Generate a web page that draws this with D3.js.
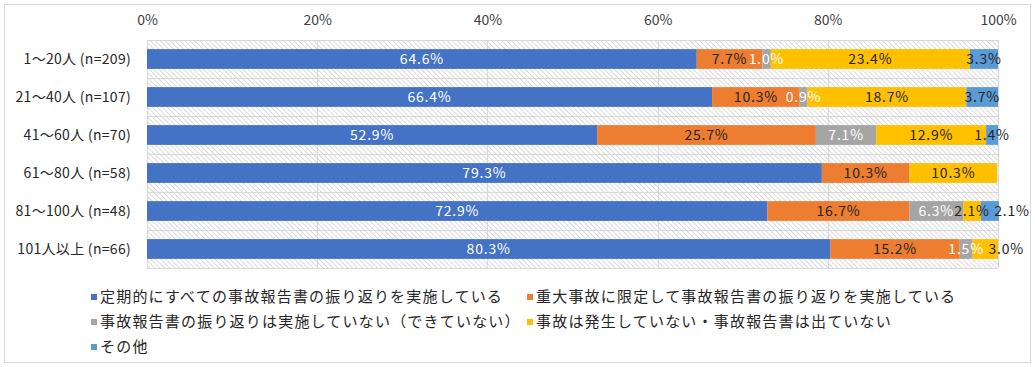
<!DOCTYPE html>
<html>
<head>
<meta charset="utf-8">
<script src="https://cdn.jsdelivr.net/npm/d3@7"></script>
<style>
  body { margin: 0; background: #fff; }
  svg { display: block; font-family: "Noto Sans CJK JP", "Noto Sans", sans-serif; }
</style>
</head>
<body>
<svg width="1035" height="367"></svg>
<script>
var categories = ["1～20人 (n=209)", "21～40人 (n=107)", "41～60人 (n=70)", "61～80人 (n=58)", "81～100人 (n=48)", "101人以上 (n=66)"];
var seriesNames = [
  "定期的にすべての事故報告書の振り返りを実施している",
  "重大事故に限定して事故報告書の振り返りを実施している",
  "事故報告書の振り返りは実施していない（できていない）",
  "事故は発生していない・事故報告書は出ていない",
  "その他"
];
var regular    = [64.6, 66.4, 52.9, 79.3, 72.9, 80.3];
var serious    = [7.7, 10.3, 25.7, 10.3, 16.7, 15.2];
var notDone    = [1.0, 0.9, 7.1, 0, 6.3, 1.5];
var noAccident = [23.4, 18.7, 12.9, 10.3, 2.1, 3.0];
var other      = [3.3, 3.7, 1.4, 0, 2.1, 0];
var ticks = [0, 20, 40, 60, 80, 100];

var colors = ["#4472C4", "#ED7D31", "#A5A5A5", "#FFC000", "#5B9BD5"];
var labelColors = ["#fff", "#262626", "#fff", "#262626", "#262626"];
// a couple of labels were dragged right of the bar end in the original
var nudge = { "4|4": 22, "5|3": 21 };

var svg = d3.select("svg");
var allSeries = [regular, serious, notDone, noAccident, other];

var rows = categories.map(function(c, i) {
  var r = { cat: c };
  allSeries.forEach(function(s, k) { r["s" + k] = s[i]; });
  return r;
});
var keys = allSeries.map(function(s, k) { return "s" + k; });
var stacked = d3.stack().keys(keys)(rows);

var x = d3.scaleLinear().domain([0, 100]).range([147, 998]);
var y = d3.scaleBand().domain(categories).range([40, 268]).paddingInner(0.48).paddingOuter(0.24);

// frame
svg.append("rect").attr("x", 4.5).attr("y", 4.5).attr("width", 1026).attr("height", 358)
  .attr("fill", "#fff").attr("stroke", "#d9d9d9");

// hatch
var defs = svg.append("defs");
var pat = defs.append("pattern").attr("id", "hatch").attr("patternUnits", "userSpaceOnUse")
  .attr("width", 3.5).attr("height", 3.5).attr("patternTransform", "rotate(-45)");
pat.append("rect").attr("width", 3.5).attr("height", 3.5).attr("fill", "#fff");
pat.append("line").attr("x1", 0).attr("y1", 0).attr("x2", 0).attr("y2", 3.5)
  .attr("stroke", "#d0d0d0").attr("stroke-width", 1.5);

svg.append("rect").attr("x", x(0)).attr("y", 40).attr("width", x(100) - x(0)).attr("height", 228)
  .attr("fill", "url(#hatch)");

// gridlines
svg.append("g").selectAll("line").data(ticks).enter().append("line")
  .attr("x1", function(d) { return Math.round(x(d)) + 0.5; })
  .attr("x2", function(d) { return Math.round(x(d)) + 0.5; })
  .attr("y1", 40).attr("y2", 268)
  .attr("stroke", "#d9d9d9").attr("stroke-width", 1.2);

svg.append("g").selectAll("line").data(d3.range(categories.length + 1)).enter().append("line")
  .attr("x1", x(0)).attr("x2", x(100))
  .attr("y1", function(i) { return 40 + i * y.step() + 0.5; })
  .attr("y2", function(i) { return 40 + i * y.step() + 0.5; })
  .attr("stroke", "#d9d9d9").attr("stroke-width", 1.2);

// top axis
var axis = d3.axisTop(x).tickValues(ticks).tickSize(0).tickFormat(function(d) { return d + "%"; });
var ax = svg.append("g").attr("transform", "translate(0,28)").call(axis);
ax.select(".domain").remove();
ax.selectAll("text").attr("font-size", 14).attr("fill", "#404040")
  .attr("font-family", "\"Noto Sans CJK JP\", sans-serif");

// category labels
svg.append("g").selectAll("text").data(categories).enter().append("text")
  .attr("x", 131)
  .attr("y", function(d) { return y(d) + y.bandwidth() / 2; })
  .attr("dy", "0.35em")
  .attr("text-anchor", "end")
  .attr("font-size", 14)
  .attr("letter-spacing", 0.3)
  .attr("fill", "#262626")
  .text(function(d) { return d; });

// bars
var layer = svg.append("g").selectAll("g").data(stacked).enter().append("g")
  .attr("fill", function(d, k) { return colors[k]; });

layer.selectAll("rect").data(function(d) { return d; }).enter().append("rect")
  .attr("x", function(d) { return x(d[0]); })
  .attr("y", function(d) { return y(d.data.cat); })
  .attr("width", function(d) { return x(d[1]) - x(d[0]); })
  .attr("height", y.bandwidth());

// data labels
stacked.forEach(function(s, k) {
  svg.append("g").selectAll("text").data(s.filter(function(d) { return d[1] - d[0] > 0; })).enter().append("text")
    .attr("x", function(d) {
      var i = categories.indexOf(d.data.cat);
      var n = nudge[i + "|" + k] || 0;
      return x((d[0] + d[1]) / 2) + n;
    })
    .attr("y", function(d) { return y(d.data.cat) + y.bandwidth() / 2; })
    .attr("dy", "0.36em")
    .attr("text-anchor", "middle")
    .attr("font-size", 14)
    .attr("letter-spacing", 0.8)
    .attr("fill", labelColors[k])
    .text(function(d) { return (d[1] - d[0]).toFixed(1) + "%"; });
});

// legend
var legendPos = [[91, 297], [527, 297], [91, 322], [527, 322], [91, 347]];
var leg = svg.append("g").selectAll("g").data(seriesNames).enter().append("g")
  .attr("transform", function(d, k) { return "translate(" + legendPos[k][0] + "," + legendPos[k][1] + ")"; });
leg.append("rect").attr("x", 0).attr("y", -3).attr("width", 6).attr("height", 6)
  .attr("fill", function(d, k) { return colors[k]; });
leg.append("text").attr("x", 9).attr("dy", "0.36em")
  .attr("font-size", 15).attr("letter-spacing", 1.2)
  .attr("fill", "#262626")
  .text(function(d) { return d; });
</script>
</body>
</html>
